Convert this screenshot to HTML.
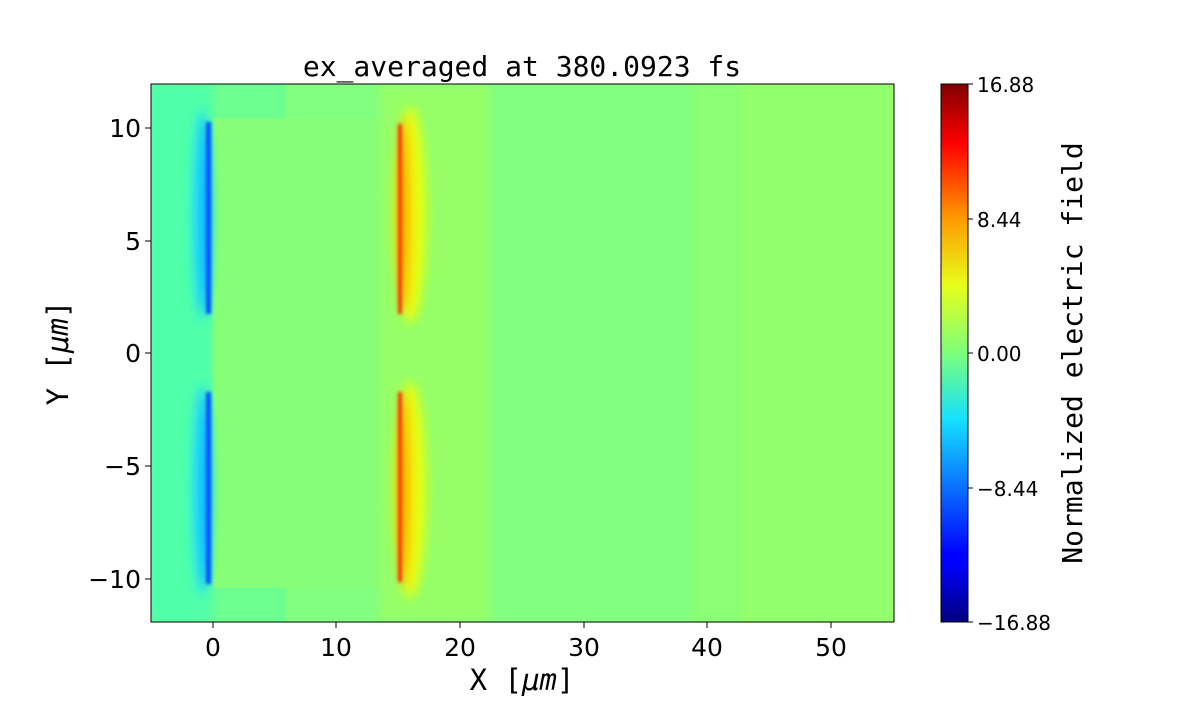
<!DOCTYPE html>
<html><head><style>
body{margin:0;background:#fff;width:1200px;height:700px;overflow:hidden}
</style></head><body>
<svg width="1200" height="700" xmlns="http://www.w3.org/2000/svg" font-family="DejaVu Sans, Liberation Sans, sans-serif">
<defs>
<linearGradient id="jet" x1="0" y1="1" x2="0" y2="0">
<stop offset="0" stop-color="#00007f"/><stop offset="0.11" stop-color="#0000ff"/>
<stop offset="0.125" stop-color="#0000ff"/><stop offset="0.375" stop-color="#14e0ff"/>
<stop offset="0.5" stop-color="#7dff7a"/><stop offset="0.625" stop-color="#e6ff1a"/>
<stop offset="0.75" stop-color="#ff9a00"/><stop offset="0.89" stop-color="#ff0000"/>
<stop offset="1" stop-color="#7f0000"/></linearGradient>
<filter id="b4"><feGaussianBlur stdDeviation="5"/></filter>
<filter id="b2"><feGaussianBlur stdDeviation="1.5"/></filter>
<clipPath id="cp"><rect x="151" y="84" width="743" height="538"/></clipPath>
</defs>
<g clip-path="url(#cp)">
<rect x="151" y="84" width="743" height="538" fill="#80ff80"/>
<rect x="151" y="84" width="135" height="538" fill="#6cff90"/>
<rect x="140" y="84" width="72" height="538" fill="#50ffaa" filter="url(#b4)"/>
<rect x="213" y="118" width="175" height="470" fill="#86ff78"/>
<rect x="380" y="84" width="110" height="538" fill="#9cff62" filter="url(#b4)" opacity="0.8"/>
<rect x="690" y="84" width="204" height="538" fill="#8eff70" opacity="0.7"/>
<rect x="740" y="84" width="154" height="538" fill="#96ff68" opacity="0.7"/>
<g filter="url(#b4)">
<ellipse cx="202" cy="215" rx="10" ry="105" fill="#20e0ff"/>
<ellipse cx="202" cy="490" rx="10" ry="105" fill="#20e0ff"/>
<ellipse cx="410" cy="215" rx="16" ry="108" fill="#e8ff10"/>
<ellipse cx="410" cy="490" rx="16" ry="108" fill="#e8ff10"/>
<ellipse cx="404" cy="215" rx="7" ry="98" fill="#ffb000"/>
<ellipse cx="404" cy="490" rx="7" ry="98" fill="#ffb000"/>
<ellipse cx="205" cy="215" rx="4" ry="98" fill="#00a0ff"/>
<ellipse cx="205" cy="490" rx="4" ry="98" fill="#00a0ff"/>
</g>
<g filter="url(#b2)">
<rect x="206" y="122" width="5" height="192" fill="#0050ff"/>
<rect x="206" y="392" width="5" height="192" fill="#0050ff"/>
<rect x="398" y="124" width="4" height="190" fill="#ff3000"/>
<rect x="398" y="392" width="4" height="190" fill="#ff3000"/>
</g>
</g>
<rect x="151" y="84" width="743" height="538" fill="none" stroke="#000" stroke-width="1"/>
<g font-size="25" fill="#000">
<text x="522" y="76" font-family="DejaVu Sans Mono, Liberation Mono, monospace" font-size="28" text-anchor="middle">ex_averaged at 380.0923 fs</text>
<g text-anchor="end">
<text x="141" y="137">10</text><text x="141" y="250">5</text><text x="141" y="362">0</text>
<text x="141" y="475">−5</text><text x="141" y="588">−10</text></g>
<g text-anchor="middle">
<text x="213" y="656">0</text><text x="336" y="656">10</text><text x="460" y="656">20</text>
<text x="584" y="656">30</text><text x="707" y="656">40</text><text x="831" y="656">50</text></g>
<text x="522" y="690" text-anchor="middle" font-size="29" font-family="DejaVu Sans Mono, Liberation Mono, monospace">X [<tspan font-style="italic">μm</tspan>]</text>
<text transform="translate(68,353) rotate(-90)" text-anchor="middle" font-size="29" font-family="DejaVu Sans Mono, Liberation Mono, monospace">Y [<tspan font-style="italic">μm</tspan>]</text>
</g>
<g stroke="#000">
<line x1="145" y1="128" x2="151" y2="128"/><line x1="145" y1="241" x2="151" y2="241"/>
<line x1="145" y1="353" x2="151" y2="353"/><line x1="145" y1="466" x2="151" y2="466"/>
<line x1="145" y1="579" x2="151" y2="579"/>
<line x1="213" y1="622" x2="213" y2="628"/><line x1="336" y1="622" x2="336" y2="628"/>
<line x1="460" y1="622" x2="460" y2="628"/><line x1="584" y1="622" x2="584" y2="628"/>
<line x1="707" y1="622" x2="707" y2="628"/><line x1="831" y1="622" x2="831" y2="628"/>
</g>
<rect x="941" y="84" width="27" height="538" fill="url(#jet)" stroke="#000" stroke-width="1"/>
<g stroke="#000"><line x1="968" y1="84" x2="973" y2="84"/><line x1="968" y1="219" x2="973" y2="219"/>
<line x1="968" y1="353" x2="973" y2="353"/><line x1="968" y1="488" x2="973" y2="488"/><line x1="968" y1="622" x2="973" y2="622"/></g>
<g font-size="20" fill="#000">
<text x="977" y="92">16.88</text><text x="977" y="227">8.44</text><text x="977" y="361">0.00</text>
<text x="977" y="496">−8.44</text><text x="977" y="630">−16.88</text></g>
<text transform="translate(1082,353) rotate(-90)" text-anchor="middle" font-size="28" font-family="DejaVu Sans Mono, Liberation Mono, monospace">Normalized electric field</text>
</svg>
</body></html>
